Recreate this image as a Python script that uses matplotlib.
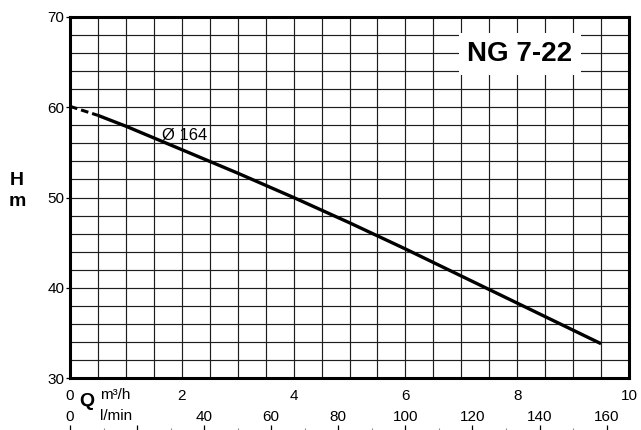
import matplotlib

matplotlib.use("Agg")

import matplotlib.pyplot as plt
from matplotlib.ticker import FixedLocator, MultipleLocator, NullLocator

plt.rcParams["font.family"] = ["Liberation Sans", "DejaVu Sans"]

# pump curve, flow in m3/h, head in m
Q_M3H = [0, 0.5, 1, 2, 3, 4, 5, 6, 7, 8, 9, 9.5]
H_M = [60.1, 59.1, 57.9, 55.3, 52.7, 50.0, 47.2, 44.3, 41.3, 38.3, 35.3, 33.8]
DASHED_UNTIL = 2  # first points are drawn dashed

X_TICKS = [0, 2, 4, 6, 8, 10]
Y_TICKS = [30, 40, 50, 60, 70]
LMIN_TICKS = [0, 20, 40, 60, 80, 100, 120, 140, 160]
LMIN_LABELS = ["0", "", "40", "60", "80", "100", "120", "140", "160"]

MODEL = "NG 7-22"
IMPELLER = "Ø 164"

W, H = 641, 430
LEFT, RIGHT, TOP, BOTTOM = 70, 629, 17, 378


def main() -> None:
    fig = plt.figure(figsize=(W / 100, H / 100), dpi=100)
    ax = fig.add_axes([LEFT / W, 1 - BOTTOM / H, (RIGHT - LEFT) / W, (BOTTOM - TOP) / H])

    ax.set_xlim(0, 10)
    ax.set_ylim(30, 70)

    ax.xaxis.set_major_locator(FixedLocator(X_TICKS))
    ax.xaxis.set_minor_locator(MultipleLocator(0.5))
    ax.yaxis.set_major_locator(FixedLocator(Y_TICKS))
    ax.yaxis.set_minor_locator(MultipleLocator(2))
    ax.grid(which="both", color="#1e1e1e", linewidth=0.85)
    ax.set_axisbelow(True)

    for spine in ax.spines.values():
        spine.set_linewidth(2.2)
        spine.set_color("black")

    ax.tick_params(axis="x", which="both", length=0, pad=8, labelsize=11)
    ax.tick_params(axis="y", which="major", length=3, width=0.9, pad=1, labelsize=11)
    ax.tick_params(axis="y", which="minor", length=0)

    # curve: dashed start, then solid
    ax.plot(Q_M3H[:DASHED_UNTIL], H_M[:DASHED_UNTIL], color="black", lw=2.2,
            dashes=(2.5, 1.3), solid_capstyle="butt")
    ax.plot(Q_M3H[DASHED_UNTIL - 1:], H_M[DASHED_UNTIL - 1:], color="black", lw=2.4,
            solid_capstyle="butt")

    ax.text(1.64, 56.9, IMPELLER, fontsize=12, va="center", ha="left")
    ax.text(8.05, 65.9, MODEL, fontsize=20, fontweight="bold", va="center", ha="center",
            bbox=dict(facecolor="white", edgecolor="none", pad=6))

    # l/min scale under the m3/h labels
    ax2 = fig.add_axes([LEFT / W, 0, (RIGHT - LEFT) / W, 5 / H])
    ax2.set_xlim(0, 10 * 1000 / 60)
    ax2.set_ylim(0, 1)
    ax2.patch.set_visible(False)
    for spine in ax2.spines.values():
        spine.set_visible(False)
    ax2.yaxis.set_major_locator(NullLocator())
    ax2.set_xticks(LMIN_TICKS, LMIN_LABELS)
    ax2.xaxis.set_minor_locator(MultipleLocator(10))
    ax2.tick_params(axis="x", which="major", direction="in", length=3.6, width=0.9,
                    bottom=True, top=False, labelbottom=False, labeltop=True,
                    pad=1, labelsize=11)
    ax2.tick_params(axis="x", which="minor", direction="in", length=1.5, width=0.8,
                    color="#888888", bottom=True, top=False)

    fig.text(17 / W, 1 - 185 / H, "H", fontsize=14, fontweight="bold", ha="center", va="baseline")
    fig.text(17 / W, 1 - 206 / H, "m", fontsize=14, fontweight="bold", ha="center", va="baseline")
    fig.text(87 / W, 1 - 406 / H, "Q", fontsize=14, fontweight="bold", ha="center", va="baseline")
    fig.text(100 / W, 1 - 399 / H, "m³/h", fontsize=11, ha="left", va="baseline")
    fig.text(100 / W, 1 - 420 / H, "l/min", fontsize=11, ha="left", va="baseline")

    fig.savefig("out.png", dpi=100)
    plt.close(fig)


if __name__ == "__main__":
    main()
